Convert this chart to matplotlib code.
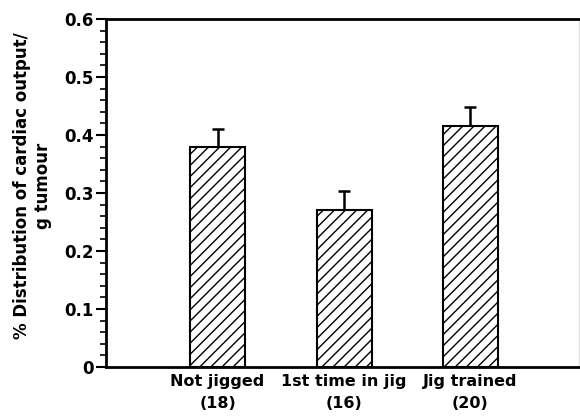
import matplotlib
matplotlib.use("Agg")
import matplotlib.pyplot as plt
from matplotlib.ticker import MultipleLocator

categories = ["Not jigged\n(18)", "1st time in jig\n(16)", "Jig trained\n(20)"]
values = [0.38, 0.27, 0.415]
errors = [0.031, 0.033, 0.033]
yticks = [0, 0.1, 0.2, 0.3, 0.4, 0.5, 0.6]
ytick_labels = ["0", "0.1", "0.2", "0.3", "0.4", "0.5", "0.6"]

plt.rcParams['font.family'] = ['DejaVu Sans']
plt.rcParams['hatch.linewidth'] = 1.0

fig = plt.figure(figsize=(5.8, 4.16), dpi=100)
ax = fig.add_axes([106/580, 1-367/416, (579-106)/580, (367-19)/416])

x = [1, 2, 3]
ax.bar(x, values, width=0.435, color='white', edgecolor='black', linewidth=1.5,
       hatch='///', zorder=2)
ax.errorbar(x, values, yerr=[[0, 0, 0], errors], fmt='none', ecolor='black',
            elinewidth=1.8, capsize=4.5, capthick=1.8, zorder=1)

ax.set_xlim(0.118, 3.858)
ax.set_ylim(0, 0.6)
ax.set_xticks(x)
ax.set_xticklabels(categories, fontsize=11.5, fontweight='bold', linespacing=1.6)
ax.tick_params(axis='x', length=0, pad=5)
ax.set_yticks(yticks)
ax.set_yticklabels(ytick_labels, fontsize=12, fontweight='bold')
ax.yaxis.set_minor_locator(MultipleLocator(0.02))
ax.tick_params(axis='y', which='major', length=7, width=1.5, direction='out', pad=2)
ax.tick_params(axis='y', which='minor', length=4, width=1.2, direction='out')

for s in ['left', 'bottom', 'top']:
    ax.spines[s].set_linewidth(2)
ax.spines['right'].set_linewidth(0.8)
ax.spines['right'].set_color('#dddddd')

ax.set_ylabel("% Distribution of cardiac output/\ng tumour", fontsize=12,
              fontweight='bold', linespacing=1.15, labelpad=9)
ax.yaxis.label.set_y(0.52)

fig.savefig("out.png", dpi=100)
